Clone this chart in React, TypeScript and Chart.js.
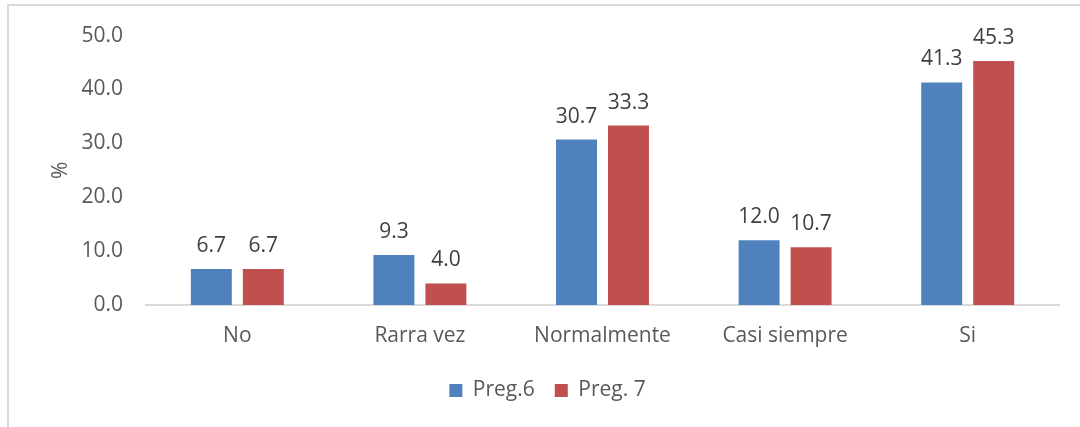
import React, { useEffect, useRef } from "react";
import { Chart, registerables } from "chart.js";

Chart.register(...registerables);

const categories = ["No", "Rarra vez", "Normalmente", "Casi siempre", "Si"];
const preg6 = [6.7, 9.3, 30.7, 12.0, 41.3];
const preg7 = [6.7, 4.0, 33.3, 10.7, 45.3];
const seriesNames = ["Preg.6", "Preg. 7"];
const yTicks = [0, 10, 20, 30, 40, 50];

const FONT = "'Open Sans', sans-serif";
const TEXT = "#595959";
const SIZE = 21;

const valueLabels = {
  id: "valueLabels",
  afterDatasetsDraw(chart: any) {
    const ctx = chart.ctx;
    ctx.save();
    ctx.font = `${SIZE}px ${FONT}`;
    ctx.fillStyle = "#404040";
    ctx.textAlign = "center";
    ctx.textBaseline = "alphabetic";
    chart.data.datasets.forEach((ds: any, i: number) => {
      const meta = chart.getDatasetMeta(i);
      meta.data.forEach((bar: any, j: number) => {
        ctx.fillText(Number(ds.data[j]).toFixed(1), bar.x, bar.y - 17);
      });
    });
    ctx.restore();
  },
};

export default function App() {
  const ref = useRef<HTMLCanvasElement>(null);
  useEffect(() => {
    if (!ref.current) return;
    const chart = new Chart(ref.current, {
      type: "bar",
      data: {
        labels: categories,
        datasets: [
          { label: seriesNames[0], data: preg6, backgroundColor: "#4F81BD" },
          { label: seriesNames[1], data: preg7, backgroundColor: "#C0504D" },
        ],
      },
      options: {
        animation: false,
        responsive: false,
        maintainAspectRatio: false,
        layout: { padding: { left: 36, right: 21, top: 33, bottom: 16 } },
        datasets: { bar: { categoryPercentage: 0.5695, barPercentage: 0.788 } } as any,
        plugins: {
          legend: {
            position: "bottom",
            labels: {
              boxWidth: 13,
              boxHeight: 13,
              color: TEXT,
              font: { family: FONT, size: SIZE },
              padding: 20,
            },
          },
          tooltip: { enabled: false },
        },
        scales: {
          x: {
            grid: { display: false, drawTicks: false },
            border: { display: true, color: "#D9D9D9", width: 2 },
            ticks: { color: TEXT, font: { family: FONT, size: SIZE }, padding: 18 },
            afterFit(s: any) {
              s.height = 55;
            },
          },
          y: {
            min: 0,
            max: 50,
            grid: { display: false, drawTicks: false },
            border: { display: false },
            afterBuildTicks(s: any) {
              s.ticks = yTicks.map((v) => ({ value: v }));
            },
            ticks: {
              color: TEXT,
              font: { family: FONT, size: SIZE },
              padding: 23,
              callback: (v: any) => Number(v).toFixed(1),
            },
            title: {
              display: true,
              text: "%",
              color: TEXT,
              font: { family: FONT, size: SIZE },
              padding: { top: 12, bottom: 0 },
            },
            afterFit(s: any) {
              s.width = 110;
            },
          },
        },
      },
      plugins: [valueLabels],
    });
    return () => chart.destroy();
  }, []);

  return (
    <div style={{ position: "absolute", left: 0, top: 0, width: 1080, height: 427, background: "#fff" }}>
      <div
        style={{
          position: "absolute",
          left: 7,
          top: 4,
          right: 0,
          bottom: 0,
          borderTop: "2px solid #D9D9D9",
          borderLeft: "2px solid #D9D9D9",
        }}
      />
      <canvas ref={ref} width={1080} height={427} style={{ position: "absolute", left: 0, top: 0 }} />
    </div>
  );
}
